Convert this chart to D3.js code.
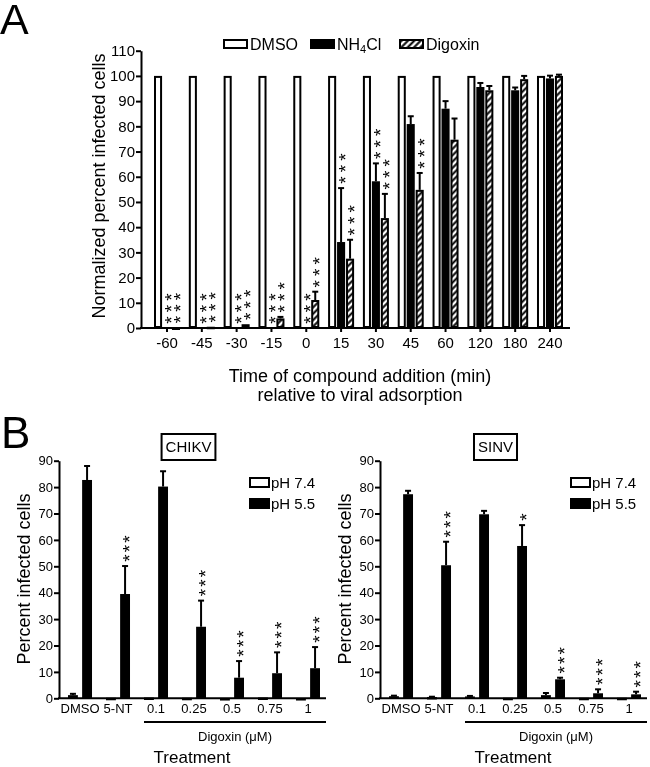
<!DOCTYPE html>
<html><head><meta charset="utf-8">
<script src="https://cdn.jsdelivr.net/npm/d3@7"></script>
<style>body{margin:0;background:#fff} svg text{filter:grayscale(1)}</style>
</head><body>
<svg id="c" width="650" height="767" xmlns="http://www.w3.org/2000/svg"></svg>
<script>
// ---------- Panel A data ----------
const timeCategories = ["-60","-45","-30","-15","0","15","30","45","60","120","180","240"];
const seriesA = ["DMSO","NH4Cl","Digoxin"];
const dmsoValues    = [100,100,100,100,100,100,100,100,100,100,100,100];
const nh4clValues   = [0,0,0,0,0,34.1,58.2,80.9,87.0,95.6,94.3,99.0];
const nh4clErrors   = [0,0,0,0,0,21.4,7.1,3.1,3.0,1.6,1.1,1.1];
const digoxinValues = [0.2,0.5,1.5,3.8,11.1,27.5,43.6,54.8,74.7,94.3,98.7,100];
const digoxinErrors = [0,0,0,0.6,3.3,7.5,9.6,6.7,8.4,1.7,1.3,0.5];
const nh4clStars    = [3,3,3,3,3,3,3,0,0,0,0,0];
const digoxinStars  = [3,3,3,3,3,3,3,3,0,0,0,0];
const yTicksA = [0,10,20,30,40,50,60,70,80,90,100,110];

// ---------- Panel B data ----------
const treatments = ["DMSO","5-NT","0.1","0.25","0.5","0.75","1"];
const phSeries = ["pH 7.4","pH 5.5"];
const chikvPH74    = [1.2,0.2,0.3,0.2,0.1,0.3,0.1];
const chikvPH74Err = [0.5,0,0,0,0,0,0];
const chikvPH55    = [82.7,39.5,80.2,27.1,7.8,9.5,11.4];
const chikvPH55Err = [5.3,10.6,5.8,9.9,6.3,7.9,8.0];
const chikvStars   = [0,3,0,3,3,3,3];
const sinvPH74     = [0.8,0.5,0.7,0.2,1.2,0.2,0.2];
const sinvPH74Err  = [0.2,0.1,0.2,0,0.8,0,0];
const sinvPH55     = [77.3,50.4,69.7,57.7,7.2,1.9,1.5];
const sinvPH55Err  = [1.3,8.9,1.3,7.9,0.6,1.5,1.0];
const sinvStars    = [0,3,0,1,3,3,3];
const yTicksB = [0,10,20,30,40,50,60,70,80,90];

// ---------- drawing ----------
const FONT = '"Liberation Sans", Arial, Helvetica, sans-serif';
const svg = d3.select("#c");
svg.append("rect").attr("width",650).attr("height",767).attr("fill","#fff");

const defs = svg.append("defs");
const pat = defs.append("pattern").attr("id","hatch").attr("patternUnits","userSpaceOnUse")
  .attr("width",4.5).attr("height",4.5).attr("patternTransform","rotate(45)");
pat.append("rect").attr("width",4.5).attr("height",4.5).attr("fill","#fff");
pat.append("line").attr("x1",2.25).attr("y1",-1).attr("x2",2.25).attr("y2",6)
  .attr("stroke","#000").attr("stroke-width",2);

function styleAxis(g, fs){
  g.attr("font-family", FONT).attr("font-size", fs);
  g.selectAll(".domain").attr("stroke","#000").attr("stroke-width",2);
  g.selectAll(".tick line").attr("stroke","#000").attr("stroke-width",2);
  g.selectAll(".tick text").attr("fill","#000");
}
function txt(x,y,s,fs,anchor){
  return svg.append("text").attr("x",x).attr("y",y).attr("font-family",FONT)
    .attr("font-size",fs).attr("text-anchor",anchor||"start").attr("fill","#000").text(s);
}
// significance stars: one rotated text, stacked upward above the error bar
function stars(cx, topY, n, spacing){
  if (!n) return;
  const fs = 19, adv = 0.389*fs;
  const bx = cx + 0.58*fs;
  const by = topY - 8 + adv/2;
  svg.append("text").attr("transform",`translate(${bx},${by}) rotate(-90)`)
    .attr("font-family",FONT).attr("font-size",fs).attr("fill","#000")
    .attr("letter-spacing", spacing - adv).text("*".repeat(n));
}
function outlinedRect(x, y, w, h, fill){
  svg.append("rect").attr("x",x+1).attr("y",y+1).attr("width",Math.max(0.5,w-2))
    .attr("height",Math.max(0.5,h-2)).attr("fill",fill).attr("stroke","#000").attr("stroke-width",2);
}
function errBar(cx, y0, y1, cap){
  svg.append("line").attr("x1",cx).attr("x2",cx).attr("y1",y0).attr("y2",y1).attr("stroke","#000").attr("stroke-width",2);
  svg.append("line").attr("x1",cx-cap/2).attr("x2",cx+cap/2).attr("y1",y1).attr("y2",y1).attr("stroke","#000").attr("stroke-width",2);
}

// ===== Panel A =====
txt(0, 34, "A", 43);
const A = {left:141, right:570, bottom:328, top:50.7};
const yA = d3.scaleLinear().domain([0,110]).range([A.bottom, A.top]);
const xA = d3.scaleBand().domain(timeCategories).range([154,563]).paddingInner(0.253).paddingOuter(0);
const xAin = d3.scaleBand().domain(seriesA).range([0,xA.bandwidth()]).paddingInner(0.1);
const fillA = {DMSO:"#fff", NH4Cl:"#000", Digoxin:"url(#hatch)"};

const rowsA = [];
timeCategories.forEach((c,i)=>{
  rowsA.push({c, s:"DMSO", v:dmsoValues[i], e:0, st:0});
  rowsA.push({c, s:"NH4Cl", v:nh4clValues[i], e:nh4clErrors[i], st:nh4clStars[i]});
  rowsA.push({c, s:"Digoxin", v:digoxinValues[i], e:digoxinErrors[i], st:digoxinStars[i]});
});
rowsA.forEach(d=>{
  const x = xA(d.c) + xAin(d.s), w = xAin.bandwidth();
  const cx = x + w/2;
  if (d.e > 0) errBar(cx, yA(d.v), yA(d.v + d.e), 6);
  if (d.s === "NH4Cl") {
    if (d.v > 0) svg.append("rect").attr("x",x).attr("y",yA(d.v)).attr("width",w)
      .attr("height",yA(0)-yA(d.v)).attr("fill","#000");
  } else {
    outlinedRect(x, yA(d.v), w, yA(0)-yA(d.v), fillA[d.s]);
  }
  stars(cx, yA(d.v + d.e), d.st, 11.5);
});

const gyA = svg.append("g").attr("transform",`translate(${A.left},0)`)
  .call(d3.axisLeft(yA).tickValues(yTicksA).tickSize(5).tickPadding(1).tickSizeOuter(0));
styleAxis(gyA, 15);
const gxA = svg.append("g").attr("transform",`translate(0,${A.bottom})`)
  .call(d3.axisBottom(xA).tickSize(4).tickPadding(5));
gxA.select(".domain").remove();
styleAxis(gxA, 15);
svg.append("line").attr("x1",A.left-1).attr("x2",A.right).attr("y1",A.bottom).attr("y2",A.bottom)
  .attr("stroke","#000").attr("stroke-width",2);

txt(360, 381.5, "Time of compound addition (min)", 18, "middle");
txt(360, 401, "relative to viral adsorption", 18, "middle");
svg.append("text").attr("transform","translate(105,186) rotate(-90)").attr("text-anchor","middle")
  .attr("font-family",FONT).attr("font-size",18).attr("fill","#000").text("Normalized percent infected cells");

// legend A
const legA = [{s:"DMSO",x:223},{s:"NH4Cl",x:310},{s:"Digoxin",x:399}];
legA.forEach(l=>{
  if (l.s==="NH4Cl") svg.append("rect").attr("x",l.x).attr("y",39).attr("width",25).attr("height",10).attr("fill","#000");
  else outlinedRect(l.x, 39, 25, 10, fillA[l.s]);
  const t = txt(l.x+27, 49.5, "", 16);
  if (l.s==="NH4Cl"){
    t.append("tspan").text("NH");
    t.append("tspan").attr("font-size",11).attr("dy",3).text("4");
    t.append("tspan").attr("dy",-3).text("Cl");
  } else t.text(l.s);
});

// ===== Panel B =====
txt(1, 448, "B", 44);
const yB = d3.scaleLinear().domain([0,90]).range([698.3, 460.7]);

function panelB(cfg){
  const left = cfg.left, right = cfg.left + 267, bottom = yB(0);
  const xB = d3.scaleBand().domain(treatments).range([left+9, right-6]).paddingInner(0.368).paddingOuter(0);
  const xBin = d3.scaleBand().domain(phSeries).range([0,xB.bandwidth()]).paddingInner(0.3);
  treatments.forEach((c,i)=>{
    const rows = [
      {s:"pH 7.4", v:cfg.v74[i], e:cfg.e74[i], st:0},
      {s:"pH 5.5", v:cfg.v55[i], e:cfg.e55[i], st:cfg.stars[i]}
    ];
    rows.forEach(d=>{
      const x = xB(c) + xBin(d.s), w = xBin.bandwidth(), cx = x + w/2;
      if (d.e > 0) errBar(cx, yB(d.v), yB(d.v + d.e), 6);
      if (d.s === "pH 5.5") svg.append("rect").attr("x",x).attr("y",yB(d.v)).attr("width",w)
        .attr("height",yB(0)-yB(d.v)).attr("fill","#000");
      else outlinedRect(x, yB(d.v), w, yB(0)-yB(d.v), "#fff");
      stars(cx, yB(d.v + d.e), d.st, 9.5);
    });
  });
  const gy = svg.append("g").attr("transform",`translate(${left},0)`)
    .call(d3.axisLeft(yB).tickValues(yTicksB).tickSize(5).tickPadding(1).tickSizeOuter(0));
  styleAxis(gy, 13);
  const gx = svg.append("g").attr("transform",`translate(0,${bottom})`)
    .call(d3.axisBottom(xB).tickSize(0).tickPadding(5.5));
  gx.select(".domain").remove();
  styleAxis(gx, 13);
  svg.append("line").attr("x1",left-1).attr("x2",right).attr("y1",bottom).attr("y2",bottom)
    .attr("stroke","#000").attr("stroke-width",2);
  // digoxin bracket line
  const lx0 = xB("0.1");
  svg.append("line").attr("x1",lx0).attr("x2",right).attr("y1",722).attr("y2",722)
    .attr("stroke","#000").attr("stroke-width",2);
  txt((lx0+right)/2, 740.5, "Digoxin (\u03BCM)", 13, "middle");
  txt(left+133, 763, "Treatment", 17, "middle");
  svg.append("text").attr("transform",`translate(${left-29},579) rotate(-90)`).attr("text-anchor","middle")
    .attr("font-family",FONT).attr("font-size",18).attr("fill","#000").text("Percent infected cells");
  // title box
  const t = txt(cfg.titleX, 452, cfg.title, 15, "middle");
  const bw = t.node().getComputedTextLength() + 8;
  svg.append("rect").attr("x",cfg.titleX-bw/2).attr("y",434).attr("width",bw).attr("height",26)
    .attr("fill","none").attr("stroke","#000").attr("stroke-width",2);
  // legend
  const lx = left + 190;
  outlinedRect(lx, 477, 21, 11, "#fff");
  txt(lx+22, 488, "pH 7.4", 15);
  svg.append("rect").attr("x",lx).attr("y",498).attr("width",21).attr("height",11).attr("fill","#000");
  txt(lx+22, 509, "pH 5.5", 15);
}
panelB({left:59, title:"CHIKV", titleX:188.5, v74:chikvPH74, e74:chikvPH74Err, v55:chikvPH55, e55:chikvPH55Err, stars:chikvStars});
panelB({left:380, title:"SINV", titleX:495.5, v74:sinvPH74, e74:sinvPH74Err, v55:sinvPH55, e55:sinvPH55Err, stars:sinvStars});
</script>
</body></html>
